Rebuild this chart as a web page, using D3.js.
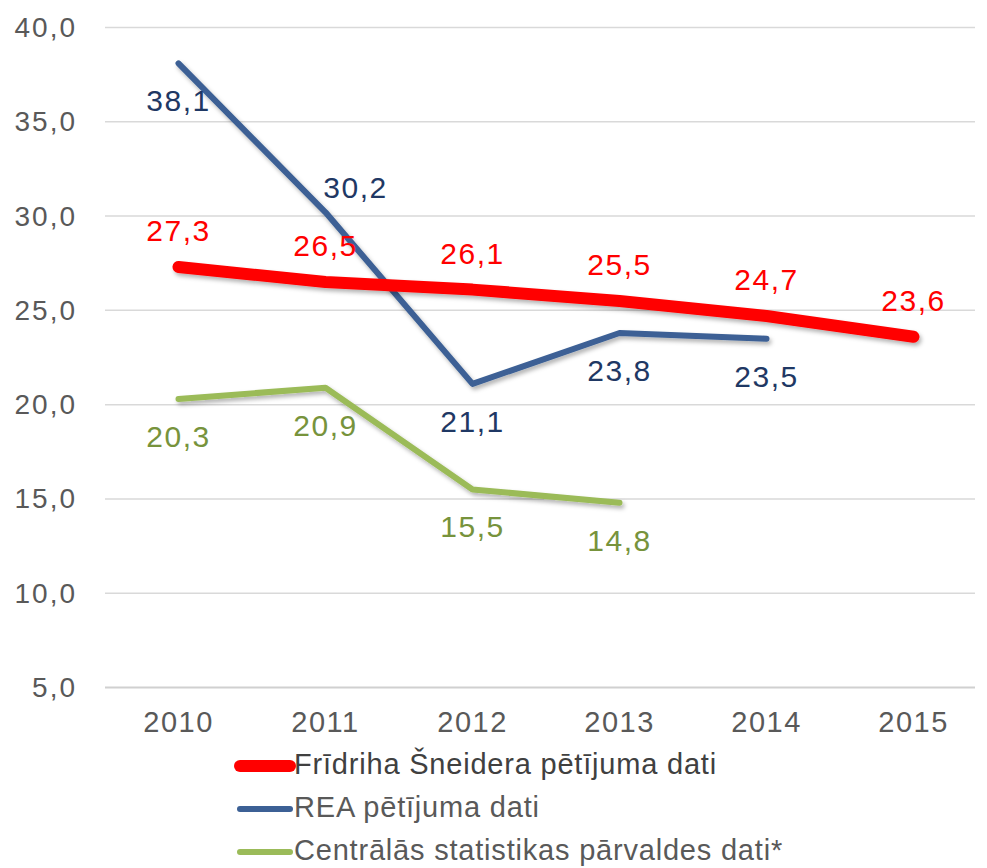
<!DOCTYPE html>
<html>
<head>
<meta charset="utf-8">
<script src="https://cdn.jsdelivr.net/npm/d3@7"></script>
<style>
  body { margin: 0; background: #fff; }
  svg text { font-family: "Liberation Sans", Arial, sans-serif; }
</style>
</head>
<body>
<svg id="chart" width="987" height="868"></svg>
<script>
// chart data
var years = ["2010", "2011", "2012", "2013", "2014", "2015"];
var yTicks = [5, 10, 15, 20, 25, 30, 35, 40];
var fsValues = [27.3, 26.5, 26.1, 25.5, 24.7, 23.6];
var reaValues = [38.1, 30.2, 21.1, 23.8, 23.5, null];
var cspValues = [20.3, 20.9, 15.5, 14.8, null, null];
var seriesNames = ["Frīdriha Šneidera pētījuma dati", "REA pētījuma dati", "Centrālās statistikas pārvaldes dati*"];

var svg = d3.select("#chart");
var fmt = function(v){ return d3.format(".1f")(v).replace(".", ","); };

var x = d3.scaleBand().domain(years).range([105, 987]);
var y = d3.scaleLinear().domain([5, 40]).range([687.5, 27.5]);

// shadow for lines
var defs = svg.append("defs");
var shadow = defs.append("filter").attr("id", "shadow").attr("x", "-10%").attr("y", "-10%").attr("width", "130%").attr("height", "130%");
shadow.append("feDropShadow").attr("dx", 2).attr("dy", 3).attr("stdDeviation", 2).attr("flood-color", "#000").attr("flood-opacity", 0.3);

// gridlines
svg.append("g").selectAll("line").data(yTicks).enter().append("line")
  .attr("x1", 105).attr("x2", 975)
  .attr("y1", function(d){ return y(d); }).attr("y2", function(d){ return y(d); })
  .attr("stroke", function(d){ return d == 5 ? "#d0d0d0" : "#d9d9d9"; })
  .attr("stroke-width", function(d){ return d == 5 ? 2 : 1.5; });

// y axis labels
var yAxis = d3.axisLeft(y).tickValues(yTicks).tickFormat(fmt).tickSize(0).tickPadding(0);
var yg = svg.append("g").attr("transform", "translate(77,0)").call(yAxis);
yg.select(".domain").remove();
yg.selectAll("text").attr("font-size", 28).attr("letter-spacing", 2).attr("fill", "#595959").attr("font-family", "Liberation Sans, Arial, sans-serif");

// x axis labels
var xAxis = d3.axisBottom(x).tickSize(0).tickPadding(0);
var xg = svg.append("g").attr("transform", "translate(0,711)").call(xAxis);
xg.select(".domain").remove();
xg.selectAll("text").attr("font-size", 29).attr("letter-spacing", 1.5).attr("fill", "#595959").attr("font-family", "Liberation Sans, Arial, sans-serif");

function cx(i){ return x(years[i]) + x.bandwidth()/2; }

var series = [
  { name: seriesNames[2], values: cspValues, color: "#9BBB59", label: "#77933C", width: 6, pos: "below" },
  { name: seriesNames[1], values: reaValues, color: "#3C6095", label: "#1F3864", width: 6, pos: ["below", "right", "below", "below", "below"] },
  { name: seriesNames[0], values: fsValues, color: "#FF0000", label: "#FF0000", width: 12, pos: "above" }
];

var line = d3.line()
  .defined(function(d){ return d != null; })
  .x(function(d, i){ return cx(i); })
  .y(function(d){ return y(d); });

series.forEach(function(s){
  svg.append("path").datum(s.values)
    .attr("d", line)
    .attr("fill", "none")
    .attr("stroke", s.color)
    .attr("stroke-width", s.width)
    .attr("stroke-linecap", "round")
    .attr("stroke-linejoin", "round")
    .attr("filter", "url(#shadow)");
});

// data labels
series.forEach(function(s){
  s.values.forEach(function(v, i){
    if(v == null) return;
    var p = Array.isArray(s.pos) ? s.pos[i] : s.pos;
    var lx = cx(i), ly;
    if(p == "above"){ ly = y(v) - 34; }
    else if(p == "below"){ ly = y(v) + 40; }
    else { lx = cx(i) + 30; ly = y(v) - 22; }
    svg.append("text")
      .attr("x", lx).attr("y", ly)
      .attr("text-anchor", "middle")
      .attr("dominant-baseline", "middle")
      .attr("font-size", 30)
      .attr("letter-spacing", 1.5)
      .attr("fill", s.label)
      .text(fmt(v));
  });
});

// legend
var legend = [
  { name: seriesNames[0], color: "#FF0000", width: 12, text: "#404040" },
  { name: seriesNames[1], color: "#3C6095", width: 6, text: "#595959" },
  { name: seriesNames[2], color: "#9BBB59", width: 6, text: "#595959" }
];
var lg = svg.append("g").selectAll("g").data(legend).enter().append("g")
  .attr("transform", function(d, i){ return "translate(0," + (766 + i*43) + ")"; });
lg.append("line")
  .attr("x1", 240).attr("x2", 290).attr("y1", 0).attr("y2", 0)
  .attr("stroke", function(d){ return d.color; })
  .attr("stroke-width", function(d){ return d.width; })
  .attr("stroke-linecap", "round");
lg.append("text")
  .attr("x", 294).attr("y", 0)
  .attr("dominant-baseline", "middle")
  .attr("font-size", 29)
  .attr("letter-spacing", 0.8)
  .attr("fill", function(d){ return d.text; })
  .text(function(d){ return d.name; });
</script>
</body>
</html>
